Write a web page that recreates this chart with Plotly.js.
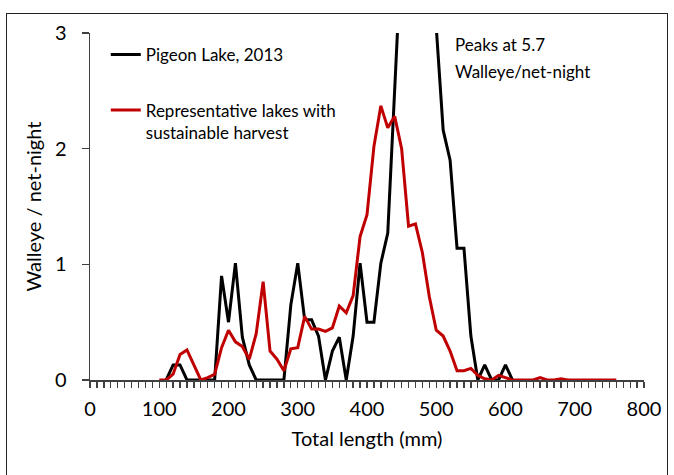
<!DOCTYPE html>
<html><head><meta charset="utf-8">
<script src="https://cdn.plot.ly/plotly-3.0.1.min.js"></script>
<style>
body{margin:0;padding:0;background:#fff;}
#wrap{position:relative;width:674px;height:475px;}
#chart{width:674px;height:475px;}
#frame{position:absolute;left:6px;top:13px;width:662px;height:470px;border:1.5px solid #222;pointer-events:none;box-sizing:border-box;}
</style></head>
<body>
<div id="wrap"><div id="chart"></div><div id="frame"></div></div>
<script>
// Total length (mm)
const pigeonLength = [110,120,130,140,150,160,170,180,190,200,210,220,230,240,250,260,270,280,290,300,310,320,330,340,350,360,370,380,390,400,410,420,430,440,450,460,470,480,490,500,510,520,530,540,550,560,570,580,590,600,610];
const pigeonCatch  = [0,0.13,0.13,0,0,0,0,0,0.9,0.5,1.01,0.37,0.13,0,0,0,0,0,0.65,1.01,0.52,0.52,0.38,0,0.25,0.37,0,0.38,1.01,0.5,0.5,1.01,1.27,2.52,3.75,5.0,5.7,5.2,4.2,3.05,2.16,1.9,1.14,1.14,0.38,0,0.13,0,0,0.13,0];

const repLength = [100,110,120,130,140,150,160,170,180,190,200,210,220,230,240,250,260,270,280,290,300,310,320,330,340,350,360,370,380,390,400,410,420,430,440,450,460,470,480,490,500,510,520,530,540,550,560,570,580,590,600,610,620,630,640,650,660,670,680,690,700,710,720,730,740,750,760];
const repCatch  = [0,0,0.05,0.22,0.26,0.13,0,0.02,0.05,0.28,0.43,0.33,0.29,0.18,0.4,0.85,0.25,0.18,0.08,0.27,0.28,0.55,0.44,0.44,0.42,0.45,0.64,0.58,0.73,1.24,1.43,2.02,2.37,2.18,2.28,2.0,1.33,1.35,1.1,0.72,0.43,0.38,0.25,0.08,0.08,0.1,0.04,0.01,0,0.04,0.02,0,0,0,0,0.02,0,0,0.01,0,0,0,0,0,0,0,0];

const seriesNames = ["Pigeon Lake, 2013", "Representative lakes with<br>sustainable harvest"];
const xTickVals = [0,100,200,300,400,500,600,700,800];
const yTickVals = [0,1,2,3];
const noteLines = ["Peaks at 5.7", "Walleye/net-night"];

const FONT = "Lato, 'Open Sans', sans-serif";
const AXC = '#404040';

const traces = [
  {x: pigeonLength, y: pigeonCatch, type: 'scatter', mode: 'lines', name: seriesNames[0],
   line: {color: '#000000', width: 3}, legend: 'legend'},
  {x: repLength, y: repCatch, type: 'scatter', mode: 'lines', name: seriesNames[1],
   line: {color: '#c00000', width: 3}, legend: 'legend2'}
];

const layout = {
  width: 674, height: 475,
  margin: {l: 90, r: 30, t: 33, b: 95},
  paper_bgcolor: '#ffffff', plot_bgcolor: '#ffffff',
  font: {family: FONT, size: 17, color: '#000'},
  showlegend: true,
  legend: {x: 0.0285, y: 0.9366, xanchor: 'left', yanchor: 'middle', bgcolor: 'rgba(0,0,0,0)',
           font: {family: FONT, size: 17, color: '#000'}, itemwidth: 30, tracegroupgap: 0},
  legend2: {x: 0.0285, y: 0.745, xanchor: 'left', yanchor: 'middle', bgcolor: 'rgba(0,0,0,0)', valign: 'top',
           font: {family: FONT, size: 17, color: '#000'}, itemwidth: 30},
  xaxis: {
    range: [0, 800], tickvals: xTickVals, ticktext: xTickVals.map(String),
    ticks: 'outside', ticklen: 6, tickwidth: 1.3, tickcolor: AXC,
    minor: {dtick: 10, ticks: 'outside', ticklen: 6, tickwidth: 1.3, tickcolor: AXC, showgrid: false},
    showline: true, linecolor: AXC, linewidth: 1.5, showgrid: false, zeroline: false,
    ticklabelstandoff: 4,
    tickfont: {family: FONT, size: 20, color: '#000'},
    title: {text: 'Total length (mm)', font: {family: FONT, size: 20, color: '#000'}, standoff: 13}
  },
  yaxis: {
    range: [0, 3], tickvals: yTickVals, ticktext: yTickVals.map(String),
    ticks: 'outside', ticklen: 7, tickwidth: 1.3, tickcolor: AXC,
    showline: true, linecolor: AXC, linewidth: 1.5, showgrid: false, zeroline: false,
    ticklabelstandoff: 11,
    tickfont: {family: FONT, size: 20, color: '#000'},
    title: {text: 'Walleye / net-night', font: {family: FONT, size: 20, color: '#000'}, standoff: 8}
  },
  annotations: [
    {x: 524, y: 2.90, xref: 'x', yref: 'y', text: noteLines[0], showarrow: false, xanchor: 'left', yanchor: 'middle',
     font: {family: FONT, size: 17, color: '#000'}},
    {x: 524, y: 2.667, xref: 'x', yref: 'y', text: noteLines[1], showarrow: false, xanchor: 'left', yanchor: 'middle',
     font: {family: FONT, size: 17, color: '#000'}}
  ]
};

Plotly.newPlot('chart', traces, layout, {displayModeBar: false, staticPlot: true});
</script>
</body></html>
